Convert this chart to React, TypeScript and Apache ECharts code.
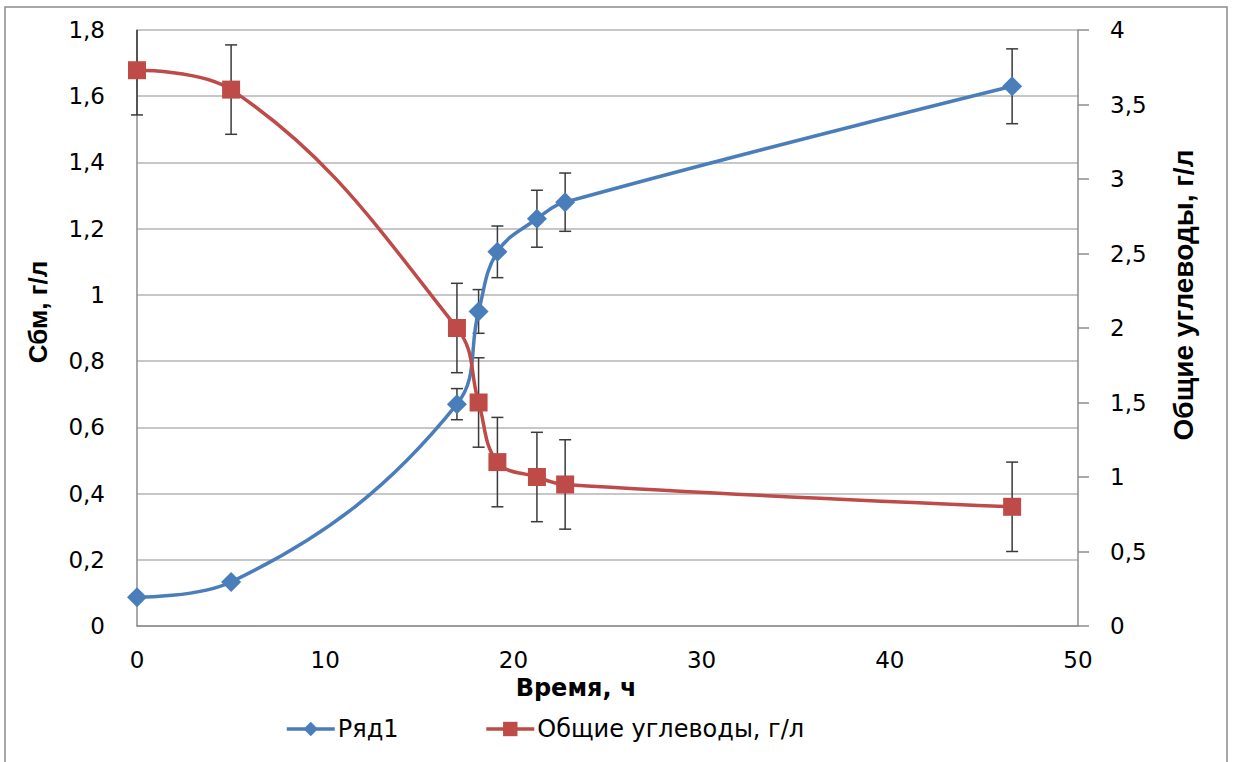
import React, { useEffect, useRef } from "react";
import * as echarts from "echarts";

// Time, h
const timeBlue = [0, 5, 17, 18.15, 19.15, 21.25, 22.75, 46.5];
const biomass = [0.087, 0.133, 0.67, 0.95, 1.13, 1.23, 1.28, 1.63];
const biomassErr = [0, 0, 0.047, 0.066, 0.078, 0.086, 0.088, 0.113];

const timeRed = [0, 5, 17, 18.15, 19.15, 21.25, 22.75, 46.5];
const carbs = [3.73, 3.6, 2.0, 1.5, 1.1, 1.0, 0.95, 0.8];
const carbsErr = [0.3, 0.3, 0.3, 0.3, 0.3, 0.3, 0.3, 0.3];

const seriesNames = ["Ряд1", "Общие углеводы, г/л"];
const xTitle = "Время, ч";
const yLeftTitle = "Сбм, г/л";
const yRightTitle = "Общие углеводы, г/л";

const LEFT_MAX = 1.8;
const RIGHT_MAX = 4;

const fmt = (v: number) => String(Math.round(v * 10) / 10).replace(".", ",");

const errorBarRender = (maxY: number) => (params: any, api: any) => {
  const x = api.value(0);
  const lo = Math.max(0, api.value(1));
  const hi = Math.min(maxY, api.value(2));
  const pHi = api.coord([x, hi]);
  const pLo = api.coord([x, lo]);
  const w = 6;
  const style = { stroke: "#3a3a3a", lineWidth: 1.5 };
  const children: any[] = [
    { type: "line", shape: { x1: pHi[0], y1: pHi[1], x2: pLo[0], y2: pLo[1] }, style },
    { type: "line", shape: { x1: pLo[0] - w, y1: pLo[1], x2: pLo[0] + w, y2: pLo[1] }, style },
  ];
  if (api.value(2) <= maxY) {
    children.push({ type: "line", shape: { x1: pHi[0] - w, y1: pHi[1], x2: pHi[0] + w, y2: pHi[1] }, style });
  }
  return { type: "group", children };
};

export default function App() {
  const ref = useRef<HTMLDivElement>(null);
  useEffect(() => {
    if (!ref.current) return;
    const chart = echarts.init(ref.current, undefined, { renderer: "svg" });
    const blueData = timeBlue.map((t, i) => [t, biomass[i]]);
    const redData = timeRed.map((t, i) => [t, carbs[i]]);
    const blueErr = timeBlue
      .map((t, i) => [t, biomass[i] - biomassErr[i], biomass[i] + biomassErr[i], biomassErr[i]])
      .filter((d) => d[3] > 0);
    const redErr = timeRed.map((t, i) => [t, carbs[i] - carbsErr[i], carbs[i] + carbsErr[i], carbsErr[i]]);
    const labelFont = { fontFamily: "DejaVu Sans", fontSize: 23, color: "#000" };
    const axisLineStyle = { color: "#8c8c8c", width: 1.5 };
    chart.setOption({
      animation: false,
      backgroundColor: "#fff",
      textStyle: { fontFamily: "DejaVu Sans" },
      grid: { left: 137, right: 158, top: 30, bottom: 136, containLabel: false },
      legend: {
        data: seriesNames,
        left: 280,
        top: 712,
        itemWidth: 48,
        itemHeight: 18,
        itemGap: 86,
        lineStyle: { width: 3.5 },
        textStyle: { fontFamily: "DejaVu Sans", fontSize: 24, color: "#000", padding: [0, 0, 0, -2] },
      },
      xAxis: {
        type: "value",
        min: 0,
        max: 50,
        interval: 10,
        axisLine: { show: true, onZero: false, lineStyle: axisLineStyle },
        axisTick: { show: false },
        splitLine: { show: false },
        axisLabel: { ...labelFont, margin: 22 },
      },
      yAxis: [
        {
          type: "value",
          min: 0,
          max: LEFT_MAX,
          interval: 0.2,
          axisLine: { show: true, lineStyle: axisLineStyle },
          axisTick: { show: false },
          splitLine: { show: true, lineStyle: { color: "#b4b4b4", width: 1.5 } },
          axisLabel: { ...labelFont, margin: 32, formatter: fmt },
        },
        {
          type: "value",
          min: 0,
          max: RIGHT_MAX,
          interval: 0.5,
          position: "right",
          axisLine: { show: true, lineStyle: axisLineStyle },
          axisTick: { show: true, inside: false, length: 11, lineStyle: axisLineStyle },
          splitLine: { show: false },
          axisLabel: { ...labelFont, margin: 32, formatter: fmt },
        },
      ],
      graphic: [
        {
          type: "rect",
          shape: { x: 5, y: 7, width: 1222, height: 760 },
          style: { fill: "none", stroke: "#8c8c8c", lineWidth: 1.5 },
          silent: true,
        },
        {
          type: "text",
          x: 576,
          y: 688,
          style: { text: xTitle, fontFamily: "DejaVu Sans", fontWeight: "bold", fontSize: 24, fill: "#000", align: "center", verticalAlign: "middle" },
        },
        {
          type: "text",
          x: 38,
          y: 312,
          rotation: Math.PI / 2,
          style: { text: yLeftTitle, fontFamily: "Liberation Sans", fontWeight: "bold", fontSize: 26, fill: "#000", align: "center", verticalAlign: "middle" },
        },
        {
          type: "text",
          x: 1183,
          y: 295,
          rotation: Math.PI / 2,
          style: { text: yRightTitle, fontFamily: "Liberation Sans", fontWeight: "bold", fontSize: 28, fill: "#000", align: "center", verticalAlign: "middle" },
        },
      ],
      series: [
        {
          type: "custom",
          name: "errBlue",
          xAxisIndex: 0,
          yAxisIndex: 0,
          renderItem: errorBarRender(LEFT_MAX),
          data: blueErr,
          encode: { x: 0, y: [1, 2] },
          z: 1,
          silent: true,
        },
        {
          type: "custom",
          name: "errRed",
          xAxisIndex: 0,
          yAxisIndex: 1,
          renderItem: errorBarRender(RIGHT_MAX),
          data: redErr,
          encode: { x: 0, y: [1, 2] },
          z: 1,
          silent: true,
        },
        {
          type: "line",
          name: seriesNames[0],
          yAxisIndex: 0,
          data: blueData,
          smooth: 0.4,
          symbol: "diamond",
          symbolSize: [20, 20],
          lineStyle: { color: "#4a7ebb", width: 3.5 },
          itemStyle: { color: "#4a7ebb" },
          z: 3,
        },
        {
          type: "line",
          name: seriesNames[1],
          yAxisIndex: 1,
          data: redData,
          smooth: 0.4,
          symbol: "rect",
          symbolSize: 18,
          lineStyle: { color: "#be4b48", width: 3.5 },
          itemStyle: { color: "#be4b48" },
          z: 3,
        },
      ],
    });
    return () => chart.dispose();
  }, []);
  return (
    <div
      ref={ref}
      style={{ position: "fixed", left: 0, top: 0, width: 1236, height: 762, background: "#fff" }}
    />
  );
}
